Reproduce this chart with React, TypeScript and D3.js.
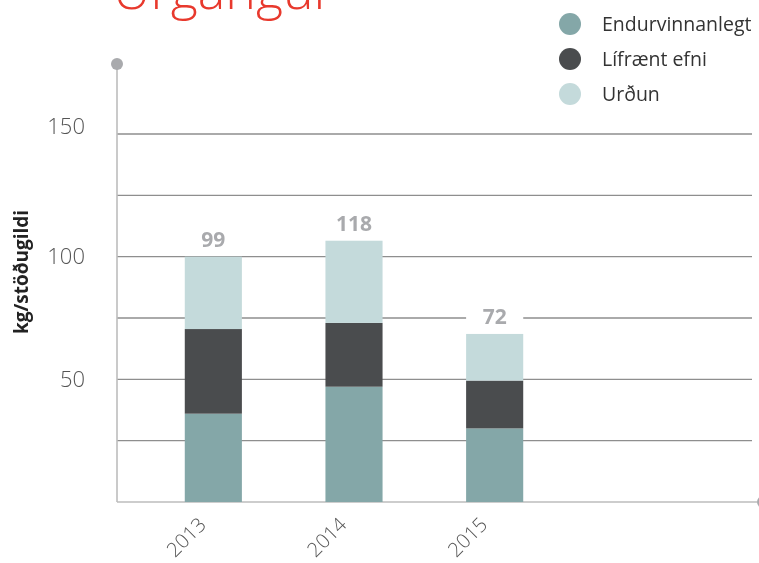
import React from 'react';
import * as d3 from 'd3';

// data
const years = ['2013', '2014', '2015'];
const endurvinnanlegt = [36, 47, 30];
const lifraentEfni = [34.5, 26, 19.5];
const urdun = [29.5, 33.5, 19];
const totalLabels = ['99', '118', '72'];
const seriesNames = ['Endurvinnanlegt', 'Lífrænt efni', 'Urðun'];
const seriesColors = ['#84a7a8', '#4a4c4e', '#c4dadb'];
const yTicks = [50, 100, 150];
const gridTicks = [25, 50, 75, 100, 125, 150];

const W = 759;
const H = 563;
const margin = { top: 64, right: 1, bottom: 61, left: 117 };
const font = '"Open Sans", "DejaVu Sans", sans-serif';

const App = () => {
  const rows = years.map((y, i) => ({
    year: y,
    Endurvinnanlegt: endurvinnanlegt[i],
    'Lífrænt efni': lifraentEfni[i],
    'Urðun': urdun[i],
  }));
  const stacked = d3.stack<any>().keys(seriesNames)(rows);

  const x0 = margin.left;
  const x1 = W - margin.right;
  const yBottom = H - margin.bottom;

  const y = d3.scaleLinear().domain([0, 150]).range([yBottom, 134]);

  const x = d3.scaleBand()
    .domain(years)
    .range([143, 565])
    .paddingInner(0.594)
    .paddingOuter(0.297);

  return (
    <div style={{ position: 'fixed', left: 0, top: 0 }}>
      <svg width={W} height={H} style={{ display: 'block' }}>
        {/* title, cut off at the top like in the source */}
        <text x={113} y={9} fill="#e8392d" fontFamily={font} fontWeight={300} fontSize={52}>
          Úrgangur
        </text>

        {/* grid */}
        {gridTicks.map(t => (
          <line key={t} x1={x0} x2={752} y1={y(t)} y2={y(t)} stroke="#8e8e8e" strokeWidth={1.4} />
        ))}

        {/* y tick labels */}
        {yTicks.map(t => (
          <text key={t} x={85} y={y(t) - (t === 150 ? 8 : 0)} dy="0.35em" textAnchor="end"
            fill="#555" fontFamily={font} fontWeight={300} fontSize={22}>
            {t}
          </text>
        ))}

        {/* axes */}
        <line x1={x0} x2={x0} y1={margin.top} y2={yBottom} stroke="#bdbdbd" strokeWidth={1.6} />
        <line x1={x0} x2={x1 - 1} y1={yBottom} y2={yBottom} stroke="#bdbdbd" strokeWidth={1.6} />
        <circle cx={x0} cy={margin.top} r={6} fill="#a9aaad" />
        <circle cx={x1 + 5} cy={yBottom} r={6} fill="#a9aaad" />

        {/* bars */}
        {stacked.map((s, si) => (
          <g key={s.key} fill={seriesColors[si]}>
            {s.map((d, i) => (
              <rect key={i} x={x(years[i])} width={x.bandwidth()}
                y={y(d[1])} height={y(d[0]) - y(d[1])} />
            ))}
          </g>
        ))}

        {/* totals */}
        {years.map((yr, i) => {
          const top = y(stacked[stacked.length - 1][i][1]);
          return (
            <g key={yr}>
              <rect x={x(yr)} width={x.bandwidth()} y={top - 29} height={23} fill="#fff" />
              <text x={(x(yr) as number) + x.bandwidth() / 2} y={top - 10} textAnchor="middle"
                fill="#a9aaad" fontFamily={font} fontWeight={700} fontSize={21}>
                {totalLabels[i]}
              </text>
            </g>
          );
        })}

        {/* x labels */}
        {years.map(yr => {
          const cx = (x(yr) as number) + x.bandwidth() / 2 - 16;
          return (
            <text key={yr} transform={`translate(${cx},${yBottom + 14}) rotate(-45)`}
              textAnchor="end" dy="0.7em" fill="#555" fontFamily={font} fontWeight={300} fontSize={20}>
              {yr}
            </text>
          );
        })}

        {/* y axis title */}
        <text transform={`translate(28,${272}) rotate(-90)`} textAnchor="middle"
          fill="#222" fontFamily={font} fontWeight={700} fontSize={19}>
          kg/stöðugildi
        </text>

        {/* legend */}
        {seriesNames.map((n, i) => (
          <g key={n} transform={`translate(570,${24 + i * 35})`}>
            <circle r={11} fill={seriesColors[i]} />
            <text x={32} dy="0.35em" fill="#333" fontFamily={font} fontSize={19.5}>{n}</text>
          </g>
        ))}
      </svg>
    </div>
  );
};

export default App;
